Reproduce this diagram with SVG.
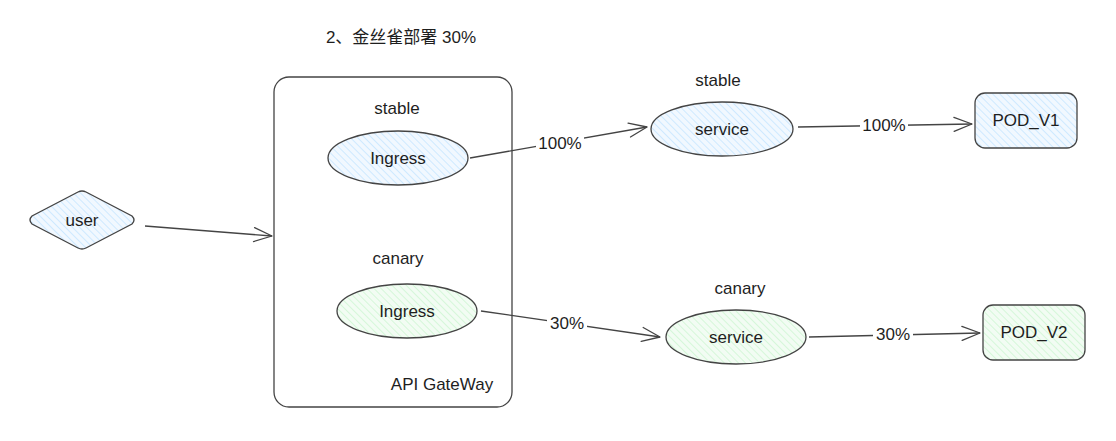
<svg xmlns="http://www.w3.org/2000/svg" width="1116" height="441" viewBox="0 0 1116 441">
<defs>
<pattern id="hBlue" width="5" height="5" patternUnits="userSpaceOnUse" patternTransform="rotate(-45)">
<rect width="5" height="5" fill="#f1f8ff"/>
<line x1="0" y1="0" x2="0" y2="5" stroke="#a5d8ff" stroke-width="0.9"/>
</pattern>
<pattern id="hGreen" width="5" height="5" patternUnits="userSpaceOnUse" patternTransform="rotate(-45)">
<rect width="5" height="5" fill="#f2fcf3"/>
<line x1="0" y1="0" x2="0" y2="5" stroke="#b2f2bb" stroke-width="0.9"/>
</pattern>
<marker id="arr" markerWidth="22" markerHeight="18" refX="20" refY="9" orient="auto" markerUnits="userSpaceOnUse">
<path d="M2,2 L20,9 L2,16" fill="none" stroke="#444" stroke-width="1.3" stroke-linecap="round" stroke-linejoin="round"/>
</marker>
</defs>
<style>
text{font-family:"Liberation Sans","Noto Sans CJK SC",sans-serif;fill:#1e1e1e;text-anchor:middle;dominant-baseline:central;font-size:17px}
.shape{stroke:#444;stroke-width:1.3}
.blue{fill:url(#hBlue)}
.green{fill:url(#hGreen)}
.conn{fill:none;stroke:#444;stroke-width:1.3;marker-end:url(#arr)}
.lbl{fill:#fff;stroke:none}
</style>

<text id="title" x="401" y="37" font-size="18">2、金丝雀部署 30%</text>

<g id="gateway">
<rect class="shape" x="274" y="77" width="238" height="330" rx="15" fill="#fff"/>
<text x="442" y="384">API GateWay</text>
</g>

<g id="ingress-stable">
<text x="397" y="108">stable</text>
<ellipse class="shape blue" cx="398" cy="158" rx="70" ry="27"/>
<text x="398" y="158">Ingress</text>
</g>

<g id="ingress-canary">
<text x="398" y="258">canary</text>
<ellipse class="shape green" cx="407" cy="311" rx="70" ry="27"/>
<text x="407" y="311">Ingress</text>
</g>

<g id="user">
<path class="shape blue" d="M78,192 Q82,190 86,192 L132,216 Q136,220 132,224 L86,248 Q82,250 78,248 L32,224 Q28,220 32,216 Z"/>
<text x="82" y="220">user</text>
</g>

<g id="service-stable">
<text x="718" y="80">stable</text>
<ellipse class="shape blue" cx="722" cy="129" rx="71" ry="27"/>
<text x="722" y="129">service</text>
</g>

<g id="service-canary">
<text x="740" y="288">canary</text>
<ellipse class="shape green" cx="736" cy="337" rx="70" ry="27"/>
<text x="736" y="337">service</text>
</g>

<g id="pod-v1">
<rect class="shape blue" x="975" y="93" width="102" height="55" rx="10"/>
<text x="1026" y="120">POD_V1</text>
</g>

<g id="pod-v2">
<rect class="shape green" x="983" y="305" width="102" height="55" rx="10"/>
<text x="1034" y="332">POD_V2</text>
</g>

<g id="connectors">
<path class="conn" d="M145,226 L272,236"/>
<path class="conn" d="M470,158 L647,127"/>
<path class="conn" d="M798,127 L972,124"/>
<path class="conn" d="M481,311 L660,337"/>
<path class="conn" d="M809,337 L980,333"/>
<rect class="lbl" x="536" y="133" width="48" height="20"/>
<text x="560" y="143">100%</text>
<rect class="lbl" x="860" y="115" width="48" height="20"/>
<text x="884" y="125">100%</text>
<rect class="lbl" x="547" y="313" width="40" height="20"/>
<text x="567" y="323">30%</text>
<rect class="lbl" x="873" y="324" width="40" height="20"/>
<text x="893" y="334">30%</text>
</g>
</svg>
